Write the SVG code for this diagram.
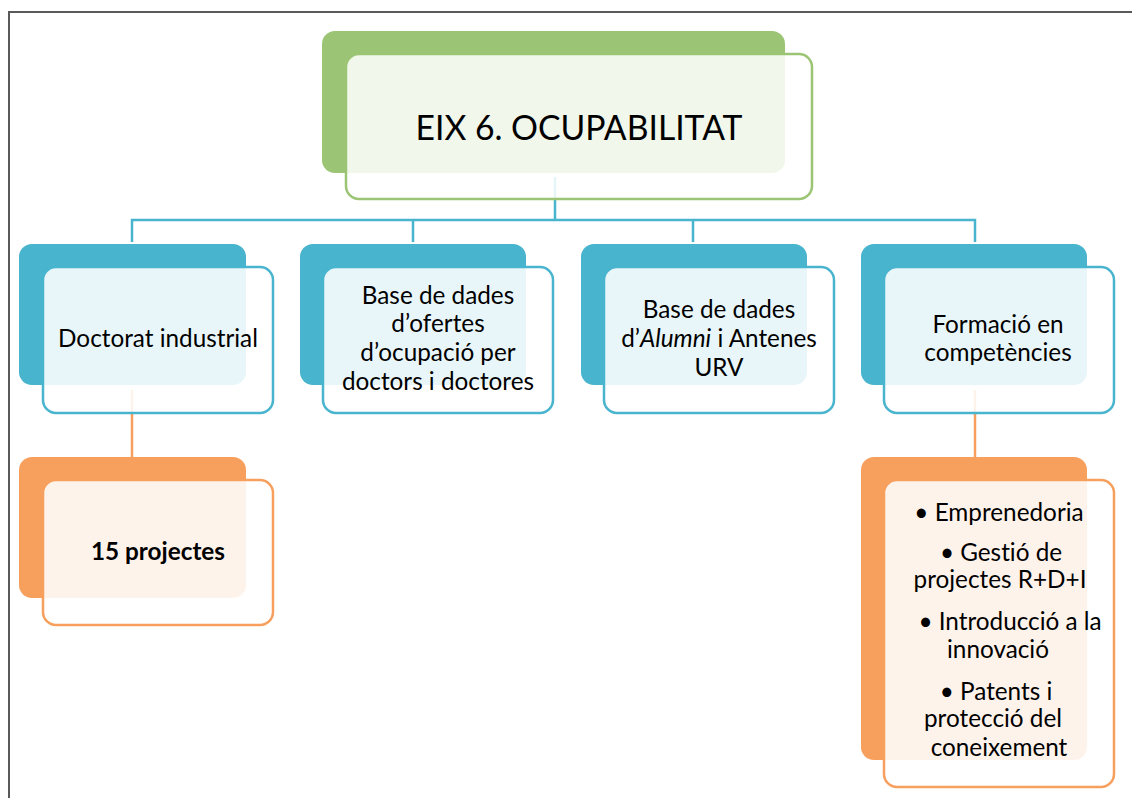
<svg xmlns="http://www.w3.org/2000/svg" width="1132" height="798" viewBox="0 0 1132 798">
<style>
.t{font-family:Lato,"Open Sans",sans-serif;font-size:24.3px;fill:#000;text-anchor:middle;font-variant-ligatures:none}
.b{font-weight:bold}
.gb{fill:#9BC574}.bb{fill:#48B4CE}.ob{fill:#F79F5D}
.gf{fill:#fff;fill-opacity:0.86;stroke:#9BC574;stroke-width:2.5}
.bf{fill:#fff;fill-opacity:0.88;stroke:#48B4CE;stroke-width:2.5}
.of{fill:#fff;fill-opacity:0.88;stroke:#F79F5D;stroke-width:2.5}
.cb{stroke:#48B4CE;stroke-width:2.5;fill:none}
.co{stroke:#F79F5D;stroke-width:2.5;fill:none}
</style>
<rect width="1132" height="798" fill="#fff"/>
<path d="M9,798 V12 H1132" fill="none" stroke="#595959" stroke-width="2"/>
<g id="connectors">
<path class="cb" d="M555,177 V220 M132,242 V220 H975 V242 M413,220 V242 M693,220 V242"/>
<path class="co" d="M132,390 V457 M975,390 V457"/>
</g>
<g id="n0">
<rect class="gb" x="322" y="31" width="463" height="142" rx="13"/>
<rect class="gf" x="346" y="54" width="466" height="145" rx="13"/>
<text class="t" x="579" y="140" style="font-size:35px" textLength="327" lengthAdjust="spacingAndGlyphs">EIX 6. OCUPABILITAT</text>
</g>
<g id="n1">
<rect class="bb" x="19" y="244" width="227" height="141" rx="13"/>
<rect class="bf" x="43" y="267" width="230" height="146" rx="13"/>
<text class="t" x="158" y="347">Doctorat industrial</text>
</g>
<g id="n2">
<rect class="bb" x="300" y="244" width="226" height="141" rx="13"/>
<rect class="bf" x="323" y="267" width="230" height="146" rx="13"/>
<text class="t" x="438" y="304">Base de dades</text>
<text class="t" x="438" y="332">d’ofertes</text>
<text class="t" x="438" y="361">d’ocupació per</text>
<text class="t" x="438" y="390">doctors i doctores</text>
</g>
<g id="n3">
<rect class="bb" x="581" y="244" width="226" height="141" rx="13"/>
<rect class="bf" x="604" y="267" width="230" height="146" rx="13"/>
<text class="t" x="719" y="318">Base de dades</text>
<text class="t" x="719" y="347">d’<tspan font-style="italic">Alumni</tspan> i Antenes</text>
<text class="t" x="719" y="376">URV</text>
</g>
<g id="n4">
<rect class="bb" x="861" y="244" width="226" height="141" rx="13"/>
<rect class="bf" x="884" y="267" width="230" height="146" rx="13"/>
<text class="t" x="998" y="333">Formació en</text>
<text class="t" x="998" y="361">competències</text>
</g>
<g id="n5">
<rect class="ob" x="19" y="457" width="227" height="141" rx="13"/>
<rect class="of" x="43" y="480" width="230" height="145" rx="13"/>
<text class="t b" x="158" y="560">15 projectes</text>
</g>
<g id="n6">
<rect class="ob" x="861" y="457" width="226" height="303" rx="13"/>
<rect class="of" x="884" y="480" width="230" height="307" rx="13"/>
<text class="t" x="999" y="521">• Emprenedoria</text>
<text class="t" x="1001" y="561">• Gestió de</text>
<text class="t" x="1000" y="588">projectes R+D+I</text>
<text class="t" x="1010" y="630">•  Introducció a la</text>
<text class="t" x="998" y="658">innovació</text>
<text class="t" x="996" y="700">• Patents i</text>
<text class="t" x="993" y="727">protecció del</text>
<text class="t" x="999" y="756">coneixement</text>
</g>
</svg>
